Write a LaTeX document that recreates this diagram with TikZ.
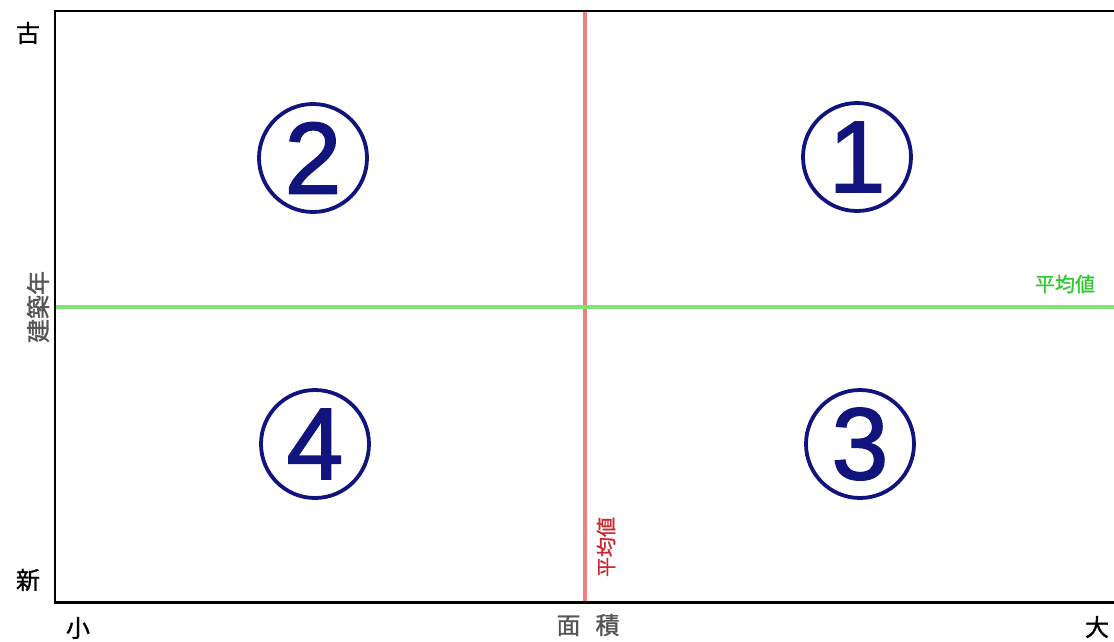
\documentclass[tikz,border=0pt]{standalone}
\usepackage{fontspec}
\newfontfamily\jp[FakeBold=1.2]{Noto Sans CJK JP}
\newfontfamily\numfont[FakeBold=1.7]{Liberation Sans}
\definecolor{navy}{RGB}{18,20,125}
\definecolor{redline}{RGB}{238,128,128}
\definecolor{greenline}{RGB}{130,228,120}
\definecolor{greentext}{RGB}{50,200,50}
\definecolor{redtext}{RGB}{205,40,45}
\definecolor{graytext}{RGB}{85,85,85}
\begin{document}
\begin{tikzpicture}[x=1pt,y=-1pt,
  axislabel/.style={font=\jp\fontsize{24}{24}\selectfont, inner sep=0pt, text=black},
  graylabel/.style={font=\jp\fontsize{24}{24}\selectfont, inner sep=0pt, text=graytext},
  avglabel/.style={font=\jp\fontsize{20}{20}\selectfont, inner sep=0pt},
  quad/.style={circle, draw=navy, line width=3.8pt, minimum size=108pt, inner sep=0pt,
    text=navy, font=\numfont\fontsize{102}{102}\selectfont}]
\useasboundingbox (0,0) rectangle (1114,641);
\fill[white] (0,0) rectangle (1114,641);
% average lines
\draw[redline, line width=4pt] (585,11) -- (585,601);
\draw[greenline, line width=4pt] (55,307) -- (1114,307);
% frame
\draw[black, line width=2pt] (1114,11) -- (55,11) -- (55,602);
\draw[black, line width=3pt] (54,602) -- (1114,602);
% quadrant numbers
\node[quad] (q1) at (857,157) {1};
\node[quad] (q2) at (313,158) {2};
\node[quad] (q3) at (860,444) {3};
\node[quad] (q4) at (315,444) {4};
% axis labels
\node[axislabel] (old) at (28,33) {古};
\node[axislabel] (new) at (28,580) {新};
\node[graylabel, rotate=90] (year) at (38,307) {建築年};
\node[axislabel] (small) at (78,628) {小};
\node[axislabel] (large) at (1097,627) {大};
\node[graylabel] (area) at (588,625) {面\hspace{15pt}積};
% average labels
\node[avglabel, text=greentext] (avgg) at (1065,284) {平均値};
\node[avglabel, text=redtext, rotate=90] (avgr) at (606,547) {平均値};
\end{tikzpicture}
\end{document}
